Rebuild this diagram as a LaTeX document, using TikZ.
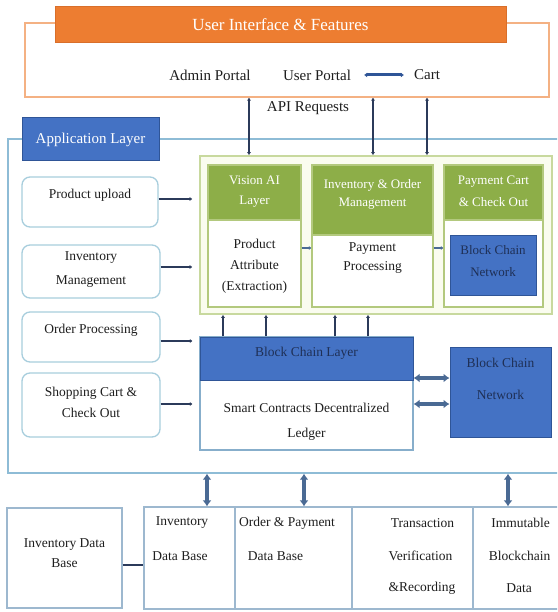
\documentclass[tikz,border=0pt]{standalone}
\usepackage{fontspec}
\setmainfont{Liberation Serif}
\usetikzlibrary{arrows.meta}
\definecolor{uiorange}{HTML}{ED7D31}
\definecolor{uiorangedk}{HTML}{D96F2A}
\definecolor{uiborder}{HTML}{F4B183}
\definecolor{appblue}{HTML}{4472C4}
\definecolor{appborder}{HTML}{2F5597}
\definecolor{frameblue}{HTML}{8EBCD6}
\definecolor{lboxborder}{HTML}{A8CEDD}
\definecolor{gborder}{HTML}{C8D99E}
\definecolor{gfill}{HTML}{FAFCEF}
\definecolor{ghead}{HTML}{8DAE48}
\definecolor{ginner}{HTML}{B3C97E}
\definecolor{bclborder}{HTML}{87AECB}
\definecolor{darrow}{HTML}{4A6A94}
\definecolor{navytxt}{HTML}{1F3056}
\definecolor{arrdark}{HTML}{2B3A5A}
\definecolor{txt}{HTML}{1E1E1E}
\definecolor{tblborder}{HTML}{9DB8CF}
\begin{document}
\begin{tikzpicture}[x=1pt,y=-1pt,
  every node/.style={font=\fontsize{13.5}{15}\selectfont, text=txt, inner sep=0pt, align=center},
  toptxt/.style={font=\fontsize{15}{17}\selectfont},
  uibox/.style={draw=uiborder, line width=1.2pt, fill=white},
  uititle/.style={draw=uiorangedk, line width=1pt, fill=uiorange, text=white, font=\fontsize{17}{19}\selectfont},
  appframe/.style={draw=frameblue, line width=1.4pt},
  applabel/.style={draw=appborder, line width=1pt, fill=appblue, text=white, font=\fontsize{15}{17}\selectfont},
  lbox/.style={draw=lboxborder, line width=1.3pt, fill=white, rounded corners=8pt},
  gouter/.style={draw=gborder, line width=1.6pt, fill=gfill},
  ginbox/.style={draw=ginner, line width=1.2pt, fill=white},
  gheadbox/.style={draw=ginner, line width=1.2pt, fill=ghead},
  whitetxt/.style={text=white},
  bluebox/.style={draw=appborder, line width=1pt, fill=appblue},
  bclbox/.style={draw=bclborder, line width=1.2pt, fill=white},
  tblcell/.style={draw=tblborder, line width=1.2pt, fill=white},
  navy/.style={text=navytxt},
  uarr/.style={draw=appborder, line width=3pt, {Latex[length=3pt,width=5pt]}-{Latex[length=3pt,width=5pt]}},
  tarr/.style={draw=arrdark, line width=2pt, {Latex[length=3pt,width=4pt]}-{Latex[length=3pt,width=4pt]}},
  larr/.style={draw=arrdark, line width=2.6pt, -{Latex[length=2.5pt,width=4pt]}},
  sarr/.style={draw=darrow, line width=2.5pt, -{Latex[length=2.5pt,width=4pt]}},
  uparr/.style={draw=arrdark, line width=1.6pt, -{Latex[length=3pt,width=4pt]}},
  darr/.style={draw=darrow, line width=3.5pt, {Latex[length=6pt,width=9pt]}-{Latex[length=6pt,width=9pt]}},
  barr/.style={draw=darrow, line width=3.5pt, {Latex[length=6pt,width=9pt]}-{Latex[length=6pt,width=9pt]}},
  plainline/.style={draw=arrdark, line width=2.6pt}
]
\useasboundingbox (0,0) rectangle (557,612);
\fill[white] (0,0) rectangle (557,612);
\clip (0,0) rectangle (557,612);

% ---------- User interface ----------
\node[uibox, minimum width=524pt, minimum height=74pt] (uiouter) at (287,60) {};
\node[uititle, minimum width=451pt, minimum height=36pt] (uititle) at (280.5,25) {User Interface \& Features};
\node[toptxt] (admin) at (210,75) {Admin Portal};
\node[toptxt] (user) at (317,75) {User Portal};
\node[toptxt] (cart) at (427,75) {Cart};
\draw[uarr, shorten <=13pt, shorten >=10pt] (user.east) -- (cart.west);
\node[toptxt] (api) at (308,108) {API Requests};

% ---------- Application layer frame ----------
\node[appframe, minimum width=567pt, minimum height=334pt] (app) at (291.5,306) {};
\node[applabel, minimum width=137pt, minimum height=43pt] (applabel) at (90.5,139.5) {Application Layer};

% left boxes
\node[lbox, minimum width=136pt, minimum height=50pt] (lb1) at (90,202) {};
\node (lb1t) at (90,195) {Product upload};
\node[lbox, minimum width=138pt, minimum height=53pt] (lb2) at (91,271.5) {};
\node[font=\fontsize{13.5}{24}\selectfont] (lb2t) at (91,270) {Inventory\\Management};
\node[lbox, minimum width=138pt, minimum height=50pt] (lb3) at (91,337) {};
\node (lb3t) at (91,330) {Order Processing};
\node[lbox, minimum width=138pt, minimum height=64pt] (lb4) at (91,405) {};
\node[font=\fontsize{13.5}{21}\selectfont] (lb4t) at (91,402) {Shopping Cart \&\\Check Out};

% green module
\node[gouter, minimum width=352pt, minimum height=158pt] (grn) at (376,235) {};
\node[ginbox, minimum width=93pt, minimum height=142pt] (v1) at (254.5,236) {};
\node[gheadbox, minimum width=93pt, minimum height=55pt] (v1h) at (254.5,192.5) {};
\node[whitetxt, font=\fontsize{13}{20}\selectfont] (v1ht) at (254.5,192) {Vision AI\\Layer};
\node[font=\fontsize{13.5}{21}\selectfont] (v1t) at (254.5,266) {Product\\Attribute\\(Extraction)};

\node[ginbox, minimum width=121pt, minimum height=142pt] (v2) at (372.5,236) {};
\node[gheadbox, minimum width=121pt, minimum height=70pt] (v2h) at (372.5,200) {};
\node[whitetxt, font=\fontsize{13}{18}\selectfont] (v2ht) at (372.5,194) {Inventory \& Order\\Management};
\node[font=\fontsize{13.5}{19}\selectfont] (v2t) at (372.5,258.5) {Payment\\Processing};

\node[ginbox, minimum width=99pt, minimum height=142pt] (v3) at (493.5,236) {};
\node[gheadbox, minimum width=99pt, minimum height=55pt] (v3h) at (493.5,192.5) {};
\node[whitetxt, font=\fontsize{13}{22}\selectfont] (v3ht) at (493.5,191) {Payment Cart\\\& Check Out};
\node[bluebox, minimum width=86pt, minimum height=60pt] (v3bc) at (493,265) {};
\node[navy, font=\fontsize{13}{22}\selectfont] (v3bct) at (493,261) {Block Chain\\Network};

\coordinate (ya) at (0,248);
\draw[sarr] (v1.east |- ya) -- (v2.west |- ya);
\draw[sarr] (v2.east |- ya) -- (v3.west |- ya);

% block chain layer
\node[bclbox, minimum width=213pt, minimum height=113pt] (bcl) at (306.5,393.5) {};
\node[bluebox, minimum width=213pt, minimum height=43pt] (bclh) at (306.5,358.5) {};
\node[navy] (bclht) at (306.5,353) {Block Chain Layer};
\node[font=\fontsize{13.5}{25}\selectfont] (bclt) at (306.5,422) {Smart Contracts Decentralized\\Ledger};

\node[bluebox, minimum width=101pt, minimum height=90pt] (bcn) at (500.5,392) {};
\node[navy, font=\fontsize{13.5}{32}\selectfont] (bcnt) at (500.5,379) {Block Chain\\Network};

\coordinate (d1) at (0,378);
\coordinate (d2) at (0,404);
\draw[darr] (bcl.east |- d1) -- (bcn.west |- d1);
\draw[darr] (bcl.east |- d2) -- (bcn.west |- d2);

% up arrows from block chain layer
\foreach \n/\xx in {u1/223,u2/266,u3/335,u4/368}{
  \coordinate (\n) at (\xx,0);
  \draw[uparr] (bcl.north -| \n) -- (grn.south -| \n);
}

% top API arrows
\foreach \n/\xx in {t1/249,t2/373,t3/427}{
  \coordinate (\n) at (\xx,0);
  \draw[tarr] (uiouter.south -| \n) -- (grn.north -| \n);
}

% left arrows
\coordinate (y1) at (0,199);
\coordinate (y2) at (0,267);
\coordinate (y3) at (0,341);
\coordinate (y4) at (0,404);
\draw[larr, shorten >=7pt] (lb1.east |- y1) -- (grn.west |- y1);
\draw[larr, shorten >=7pt] (lb2.east |- y2) -- (grn.west |- y2);
\draw[larr, shorten >=7pt] (lb3.east |- y3) -- (bcl.west |- y3);
\draw[larr, shorten >=7pt] (lb4.east |- y4) -- (bcl.west |- y4);

% ---------- Data layer ----------
\node[tblcell, minimum width=115pt, minimum height=100pt] (invdb) at (64.5,558) {};
\node[font=\fontsize{13.5}{20}\selectfont] (invdbt) at (64.5,553) {Inventory Data\\Base};
\node[tblcell, minimum width=91pt, minimum height=102pt] (c1) at (189.5,558) {};
\node[tblcell, minimum width=117pt, minimum height=102pt] (c2) at (293.5,558) {};
\node[tblcell, minimum width=121pt, minimum height=102pt] (c3) at (412.5,558) {};
\node[tblcell, minimum width=97pt, minimum height=102pt] (c4) at (521.5,558) {};

\coordinate (yc) at (0,565);
\draw[plainline] (invdb.east |- yc) -- (c1.west |- yc);

\node (c1a) at (182,523) {Inventory};
\node (c1b) at (180,556) {Data Base};
\node (c2a) at (287,523) {Order \& Payment};
\node (c2b) at (275.5,556) {Data Base};
\node (c3a) at (422.5,523) {Transaction};
\node (c3b) at (420.5,556) {Verification};
\node (c3c) at (422,588) {\&Recording};
\node (c4a) at (520.5,523) {Immutable};
\node (c4b) at (519.5,556) {Blockchain};
\node (c4c) at (519,588) {Data};

\foreach \n/\xx in {b1/207,b2/304,b3/508}{
  \coordinate (\n) at (\xx,0);
  \draw[barr] (app.south -| \n) -- (c1.north -| \n);
}
\end{tikzpicture}
\end{document}
